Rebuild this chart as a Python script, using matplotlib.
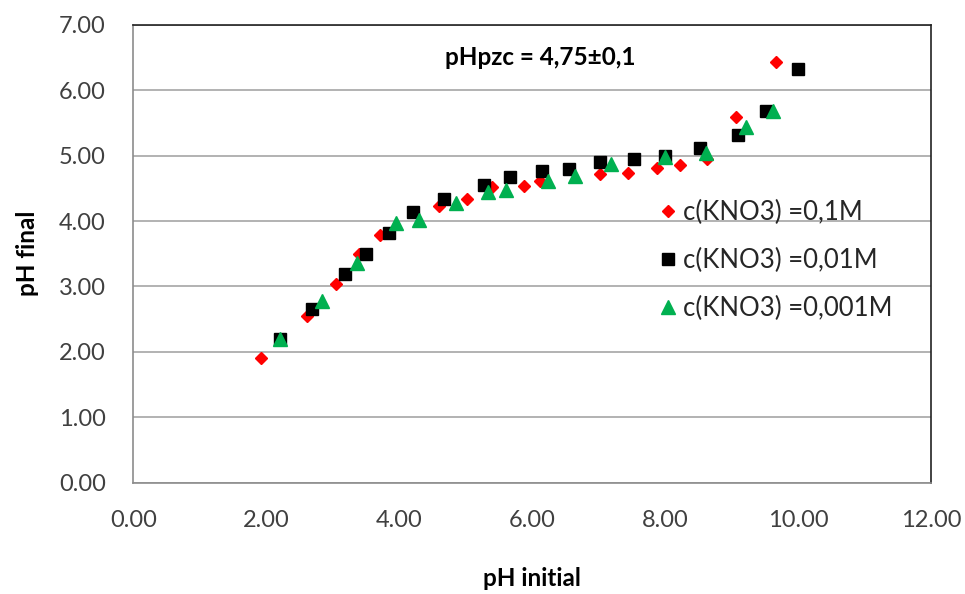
import matplotlib
matplotlib.use("Agg")
import matplotlib.pyplot as plt

plt.rcParams['font.family'] = ['Lato', 'DejaVu Sans']

# pH initial / pH final, c(KNO3)=0.1M
x_01 = [1.92, 2.61, 3.05, 3.40, 3.71, 4.60, 5.02, 5.39, 5.87, 6.11, 7.02, 7.44, 7.88, 8.23, 8.63, 9.07, 9.67]
y_01 = [1.91, 2.55, 3.04, 3.49, 3.78, 4.23, 4.33, 4.52, 4.54, 4.61, 4.72, 4.73, 4.81, 4.85, 4.95, 5.59, 6.43]

# c(KNO3)=0.01M
x_001 = [2.21, 2.69, 3.19, 3.50, 3.85, 4.20, 4.67, 5.28, 5.67, 6.15, 6.55, 7.02, 7.53, 7.99, 8.53, 9.09, 9.51, 10.00]
y_001 = [2.19, 2.66, 3.19, 3.50, 3.82, 4.14, 4.34, 4.55, 4.67, 4.76, 4.79, 4.90, 4.95, 4.99, 5.12, 5.32, 5.69, 6.33]

# c(KNO3)=0.001M
x_0001 = [2.21, 2.83, 3.36, 3.95, 4.30, 4.86, 5.33, 5.61, 6.23, 6.65, 7.19, 8.00, 8.61, 9.21, 9.62]
y_0001 = [2.20, 2.78, 3.36, 3.97, 4.02, 4.27, 4.44, 4.47, 4.61, 4.69, 4.87, 4.98, 5.04, 5.44, 5.69]

labels = ["c(KNO3) =0,1M", "c(KNO3) =0,01M", "c(KNO3) =0,001M"]
xticks = [0, 2, 4, 6, 8, 10, 12]
yticks = [0, 1, 2, 3, 4, 5, 6, 7]

fig = plt.figure(figsize=(9.65, 5.94), dpi=100)
ax = fig.add_axes([0.1383, 0.1877, 0.8265, 0.7703])

ax.plot(x_01, y_01, linestyle='none', marker='D', ms=6.5, color='#ff0000', label=labels[0], zorder=3)
ax.plot(x_001, y_001, linestyle='none', marker='s', ms=9, color='#000000', label=labels[1], zorder=3)
ax.plot(x_0001, y_0001, linestyle='none', marker='^', ms=9.5, color='#00b050', label=labels[2], zorder=3)

ax.set_xlim(0, 12)
ax.set_ylim(0, 7)
ax.set_xticks(xticks)
ax.set_yticks(yticks)
ax.set_xticklabels([f"{v:.2f}" for v in xticks])
ax.set_yticklabels([f"{v:.2f}" for v in yticks])
ax.tick_params(length=0, labelsize=17, colors='#404040')
ax.tick_params(axis='x', pad=20)
ax.tick_params(axis='y', pad=20)

ax.yaxis.grid(True, color='#a6a6a6', linewidth=1.2)
ax.set_axisbelow(True)
for s in ['left', 'bottom']:
    ax.spines[s].set_color('#8c8c8c')
    ax.spines[s].set_linewidth(1.2)
for s in ['top', 'right']:
    ax.spines[s].set_color('#222222')
    ax.spines[s].set_linewidth(1.2)

ax.set_xlabel("pH initial", fontsize=17.5, fontweight='bold', labelpad=26)
ax.set_ylabel("pH final", fontsize=17.5, fontweight='bold', labelpad=14)

ax.text(0.510, 0.928, "pHpzc = 4,75\u00b10,1", transform=ax.transAxes,
        fontsize=17.5, fontweight='bold', ha='center', va='center')

leg = ax.legend(loc='upper left', bbox_to_anchor=(0.641, 0.641), frameon=False,
                fontsize=18.5, handletextpad=0.1, labelspacing=0.9, handlelength=1.0,
                borderaxespad=0)
for t in leg.get_texts():
    t.set_color('#262626')

fig.savefig("out.png", dpi=100)
